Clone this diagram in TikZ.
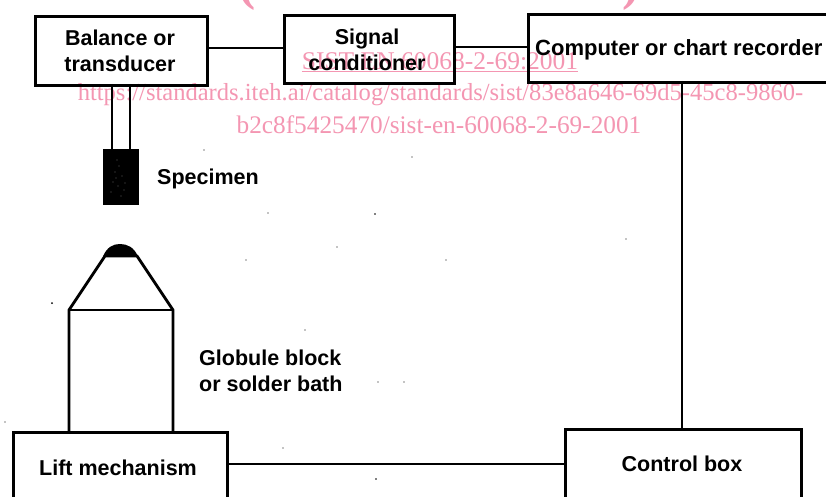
\documentclass[tikz,border=0pt]{standalone}
\usepackage{fontspec}
\setmainfont{Liberation Sans}
\newfontfamily\wmfont{Liberation Serif}
\definecolor{wmpink}{RGB}{244,150,178}
\tikzset{x=1pt,y=-1pt,
  box/.style={draw=black,line width=2.9pt,inner sep=0pt,anchor=north west},
  lbl/.style={font=\fontsize{21.5}{25.5}\selectfont\bfseries,align=center,text=black,inner sep=0pt},
  wire/.style={draw=black,line width=2.9pt},
  thin wire/.style={draw=black,line width=2pt},
  wm/.style={font=\wmfont\fontsize{25.5}{30}\selectfont,text=wmpink,inner sep=0pt}}
\begin{document}
\begin{tikzpicture}
\useasboundingbox (0,0) rectangle (826,497);
\clip (0,0) rectangle (826,497);
\fill[white] (0,0) rectangle (826,497);
% watermark
\node[wm,font=\wmfont\bfseries\fontsize{51.6}{52}\selectfont,anchor=base] (w0) at (439.5,0) {(standards.iteh.ai)};
\node[wm,anchor=center] (w1) at (440,62) {\underline{SIST EN 60068-2-69:2001}};
\node[wm,font=\wmfont\fontsize{24.55}{30}\selectfont] (w2) at (440.5,95) {https://standards.iteh.ai/catalog/standards/sist/83e8a646-69d5-45c8-9860-};
\node[wm,font=\wmfont\fontsize{25.3}{30}\selectfont] (w3) at (439,125) {b2c8f5425470/sist-en-60068-2-69-2001};
% boxes
\node[box,minimum width=172pt,minimum height=69pt] (bal) at (34,15) {};
\node[box,minimum width=170pt,minimum height=68pt] (sig) at (283,14) {};
\node[box,minimum width=320pt,minimum height=68pt] (comp) at (527,13) {};
\node[box,minimum width=214pt,minimum height=80pt] (lift) at (12,431) {};
\node[box,minimum width=236pt,minimum height=80pt] (ctrl) at (564,428) {};
\node[draw=black,fill=black,minimum width=35pt,minimum height=54pt,inner sep=0pt,anchor=north west] (spec) at (103,149.5) {};
\foreach \px/\py in {117/160,119/166,115/172,122/176,113/182,118/186,124/190,111/192,121/196,116/178,125/183}
  \fill[white] (\px,\py) circle (0.45);
% coordinates
\coordinate (balR) at (bal.east|-0,48);
\coordinate (sigL) at (sig.west|-0,48);
\coordinate (sigR) at (sig.east|-0,47);
\coordinate (compL) at (comp.west|-0,47);
\coordinate (compB) at (682,81);
\coordinate (ctrlT) at (682,428);
\coordinate (liftR) at (226,464);
\coordinate (ctrlL) at (564,464);
\coordinate (b1) at (112,84); \coordinate (s1) at (112,149);
\coordinate (b2) at (130,84); \coordinate (s2) at (130,149);
\coordinate (tl) at (105,256); \coordinate (tr) at (137,256);
\coordinate (ml) at (69,310); \coordinate (mr) at (173,310);
\coordinate (bl) at (69,431); \coordinate (br) at (173,431);
% connectors
\draw[wire] (balR) -- (sigL);
\draw[wire] (sigR) -- (compL);
\draw[wire] (b1) -- (s1);
\draw[wire] (b2) -- (s2);
\draw[wire] (compB) -- (ctrlT);
\draw[thin wire] (liftR) -- (ctrlL);
% globule block
\fill[black] (103,256.5) .. controls (107,247) and (113,244) .. (120,244) .. controls (127,244) and (134,247) .. (138,256.5) -- cycle;
\draw[wire,line join=round] (bl) -- (ml) -- (tl) -- (tr) -- (mr) -- (br);
\draw[thin wire] (ml) -- (mr);
% labels
\node[lbl] (t1) at (120,51) {Balance or\\transducer};
\node[lbl] (t2) at (367,50) {Signal\\conditioner};
\node[lbl,anchor=west,font=\fontsize{22}{25.5}\selectfont\bfseries] (t3) at (535,49.5) {Computer or chart recorder};
\node[lbl,anchor=west] (t4) at (157,178.5) {Specimen};
\node[lbl,anchor=west,align=left] (t5) at (199,371) {Globule block\\or solder bath};
\node[lbl] (t6) at (118,468) {Lift mechanism};
\node[lbl] (t7) at (682,464) {Control box};
% specks
\fill[black] (204,150) circle (0.7) (268,213) circle (0.7) (375,214) circle (0.8) (412,157) circle (0.7) (337,247) circle (0.7) (52,303) circle (1) (246,260) circle (0.6) (305,330) circle (0.7) (378,382) circle (0.7) (404,382) circle (0.6) (5,422) circle (0.7) (283,448) circle (0.6) (376,479) circle (0.9) (626,239) circle (0.7) (446,260) circle (0.7);
\end{tikzpicture}
\end{document}
